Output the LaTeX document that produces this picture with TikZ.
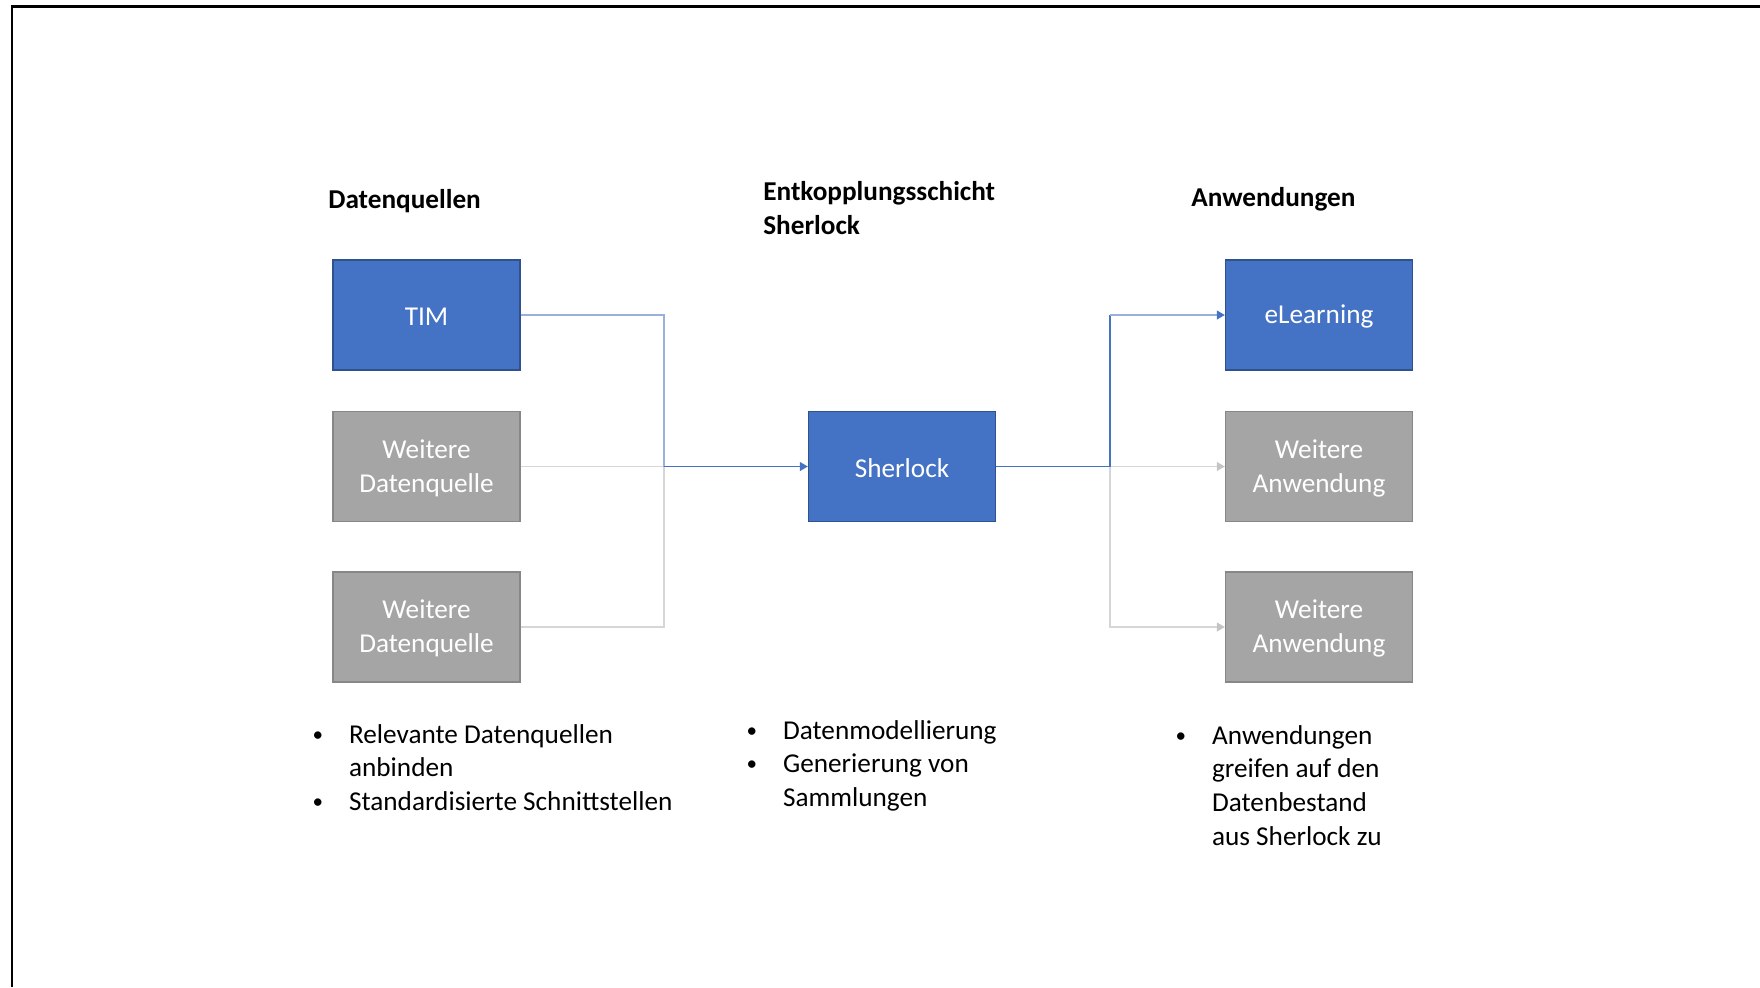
\documentclass[tikz,border=0pt]{standalone}
\usepackage{fontspec}
\setmainfont{Carlito}
\usetikzlibrary{arrows.meta}

\definecolor{bleu}{HTML}{4472C4}
\definecolor{bleubord}{HTML}{2F528F}
\definecolor{bleuclair}{HTML}{9AB0DA}
\definecolor{gris}{HTML}{A5A5A5}
\definecolor{grisbord}{HTML}{878787}
\definecolor{grisclair}{HTML}{D6D6D6}
\definecolor{grisfleche}{HTML}{C4C4C4}

% Puce plus petite, comme dans la diapositive
\newcommand{\puce}{\hspace*{-1.5pt}\raisebox{1pt}{\fontsize{12}{14}\selectfont\textbullet}}
% Texte sur deux lignes dans une boite
\newcommand{\deuxlignes}[2]{\raisebox{-1.1pt}[\height][\depth]{\begin{tabular}{@{}c@{}}#1\\#2\end{tabular}}}

\begin{document}
\begin{tikzpicture}[x=0.02cm, y=-0.02cm,
   boite/.style={draw=bleubord, fill=bleu, line width=0.8pt, text=white,
      minimum width=3.74cm, minimum height=2.2cm, align=center,
      font=\fontsize{15.5}{19.2}\selectfont,
      execute at begin node={\rule{0pt}{12.4pt}}},
   boitegrise/.style={boite, draw=grisbord, fill=gris},
   titre/.style={anchor=base west, inner sep=0pt, font=\bfseries\fontsize{15.5}{19.2}\selectfont},
   liste/.style={anchor=base west, inner sep=0pt, font=\fontsize{15.5}{19.2}\selectfont},
   lien/.style={line width=0.8pt},
   fleche/.style={-{Triangle[length=4.5pt, width=5pt]}}]
         \useasboundingbox (0,0) rectangle (1760,987);
         
         % Cadre de la diapositive
         \draw[line width=1.4pt] (12,987) -- (12,6.3) -- (1760,6.3);
         
         % Titres des colonnes
         \node[titre] (tsources) at (328,208.8) {\begin{tabular}[t]{@{}l@{}}Datenquellen\end{tabular}};
         \node[titre] (tcouche) at (763,200.8) {\begin{tabular}[t]{@{}l@{}}Entkopplungsschicht\\Sherlock\end{tabular}};
         \node[titre] (tapplis) at (1191,206.8) {\begin{tabular}[t]{@{}l@{}}Anwendungen\end{tabular}};
         
         % Sources de données
         \node[boite] (tim) at (426.5,315) {TIM};
         \node[boitegrise] (dq1) at (426.5,466.5) {\deuxlignes{Weitere}{Datenquelle}};
         \node[boitegrise] (dq2) at (426.5,627) {\deuxlignes{Weitere}{Datenquelle}};
         
         % Couche centrale
         \node[boite] (sherlock) at (902,466.5) {Sherlock};
         
         % Applications
         \node[boite] (elearning) at (1319,315) {eLearning};
         \node[boitegrise] (anw1) at (1319,466.5) {\deuxlignes{Weitere}{Anwendung}};
         \node[boitegrise] (anw2) at (1319,627) {\deuxlignes{Weitere}{Anwendung}};
         
         % Points de jonction des liens
         \coordinate (jg) at (664,466.5);
         \coordinate (jd) at (1110,466.5);
         
         % Liens des sources vers Sherlock
         \draw[lien, grisclair] (dq1.east) -- (jg);
         \draw[lien, grisclair] (dq2.east) -| (jg);
         \draw[lien, bleuclair] (tim.east) -| (jg);
         \draw[lien, bleu, fleche] (jg) -- (sherlock.west);
         
         % Liens de Sherlock vers les applications
         \draw[lien, grisclair, -{Triangle[length=4.5pt, width=5pt, color=grisfleche]}] (jd) -- (anw1.west);
         \draw[lien, grisclair, -{Triangle[length=4.5pt, width=5pt, color=grisfleche]}] (jd) |- (anw2.west);
         \draw[lien, bleu] (sherlock.east) -- (jd) -- (jd |- elearning.west);
         \draw[lien, bleuclair, -{Triangle[length=4.5pt, width=5pt, color=bleu]}] (jd |- elearning.west) -- (elearning.west);
         
         % Listes à puces sous chaque colonne
         \node[liste] (lsources) at (315,743) {\begin{tabular}[t]{@{}p{19.2pt}@{}l@{}}
            \puce & Relevante Datenquellen\\
                  & anbinden\\
            \puce & Standardisierte Schnittstellen
         \end{tabular}};
         \node[liste] (lcouche) at (749,739) {\begin{tabular}[t]{@{}p{19.2pt}@{}l@{}}
            \puce & Datenmodellierung\\
            \puce & Generierung von\\
                  & Sammlungen
         \end{tabular}};
         \node[liste] (lapplis) at (1178,744) {\begin{tabular}[t]{@{}p{19.2pt}@{}l@{}}
            \puce & Anwendungen\\
                  & greifen auf den\\
                  & Datenbestand\\
                  & aus Sherlock zu
         \end{tabular}};
      \end{tikzpicture}
\end{document}
